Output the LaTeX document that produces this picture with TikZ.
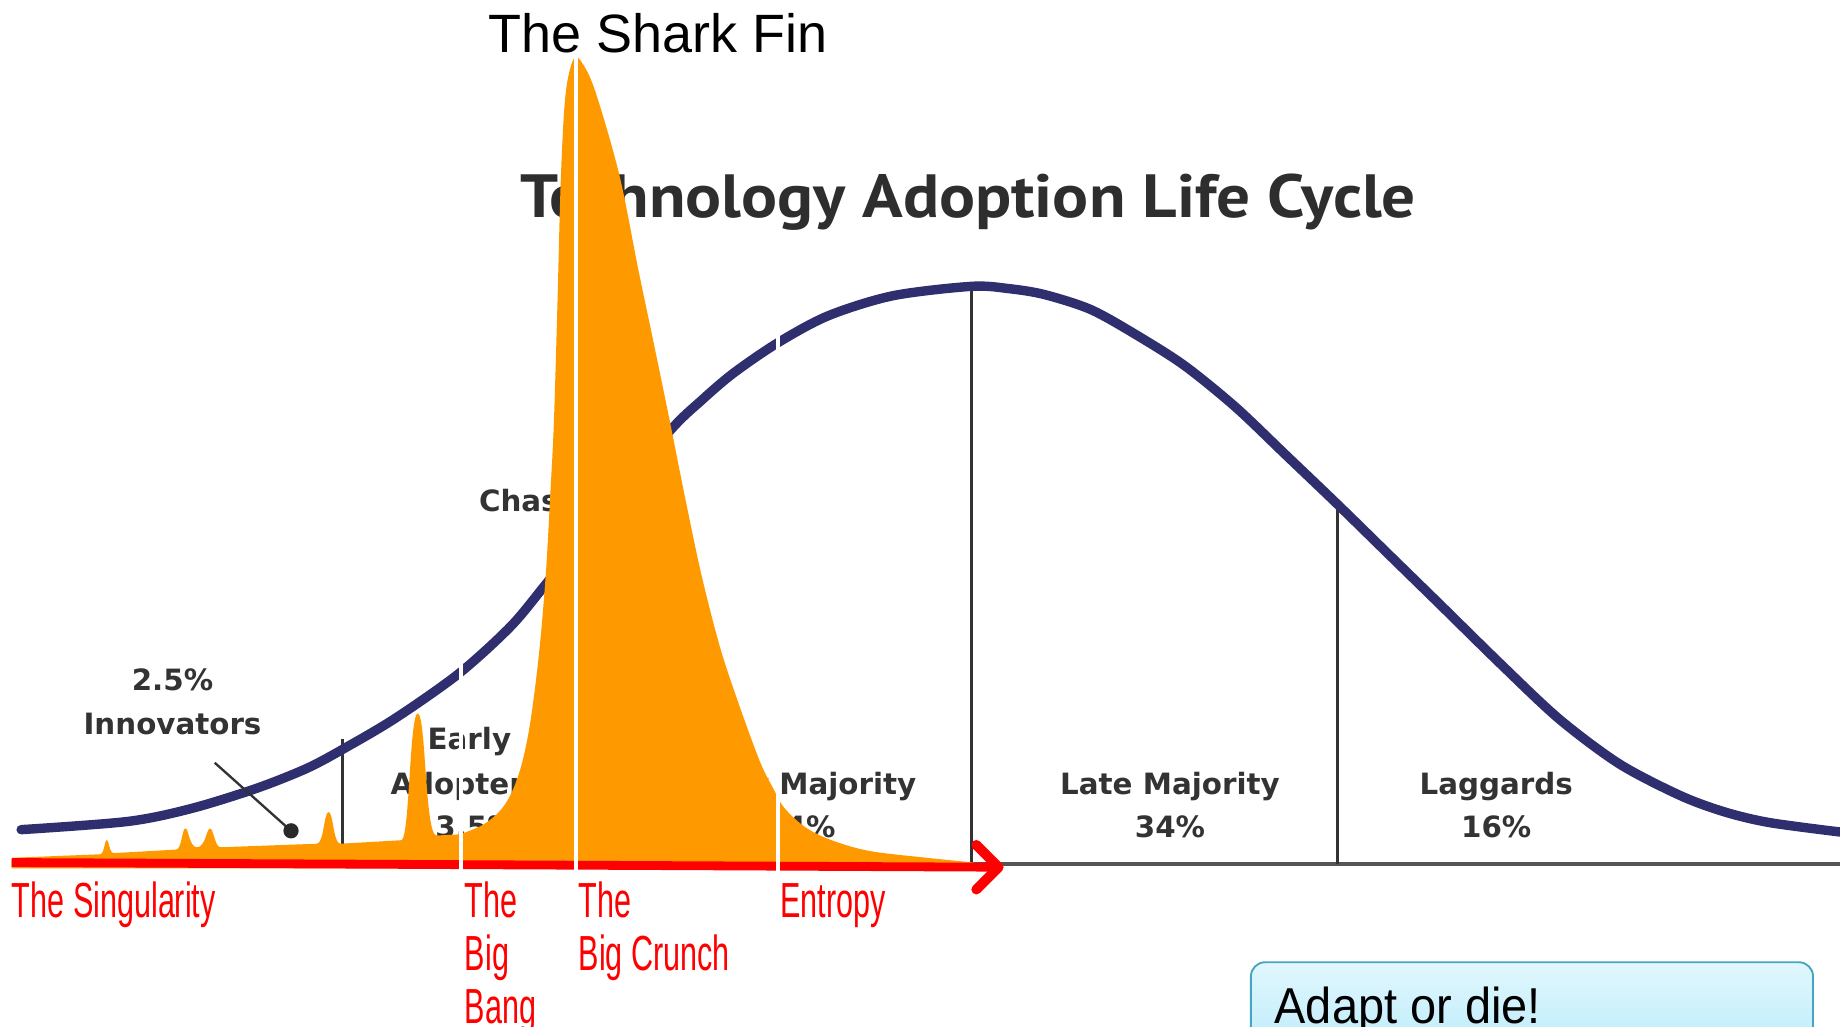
\documentclass[tikz,border=0pt]{standalone}
\usepackage{fontspec}
\setmainfont{Liberation Sans}
\newfontfamily\narrowfont[FakeStretch=0.62]{Liberation Sans}
\newfontfamily\boxfont[FakeStretch=0.93]{Liberation Sans}
\newfontfamily\chartfont{DejaVu Sans}
\newfontfamily\titlefont[FakeStretch=1.1]{PT Sans}
\definecolor{finorange}{HTML}{FF9900}
\definecolor{curveblue}{HTML}{2F2F70}
\definecolor{labelgray}{HTML}{333333}
\definecolor{axisgray}{HTML}{555555}
\definecolor{boxtop}{HTML}{E2F7FD}
\definecolor{boxbottom}{HTML}{B4EAFB}
\definecolor{boxedge}{HTML}{45A6C2}
\tikzset{
  chartlabel/.style={inner sep=0pt, anchor=base, text=labelgray, font=\chartfont\bfseries\fontsize{25}{28}\selectfont},
  redlabel/.style={inner sep=0pt, anchor=base west, text=red, font=\narrowfont\fontsize{42}{45}\selectfont},
  divider/.style={draw=labelgray, line width=2.5pt},
  whitecut/.style={draw=white, line width=3pt},
  bellcurve/.style={draw=curveblue, line width=8pt, line cap=round},
}
\begin{document}
\begin{tikzpicture}[x=1pt, y=-1pt]
\useasboundingbox (0,0) rectangle (1568,875);
\clip (0,0) rectangle (1568,875);
\fill[white] (0,0) rectangle (1568,875);

% ---- underlying adoption chart ----
\coordinate (axL) at (18,736);
\coordinate (axR) at (1568,736);
\draw[draw=axisgray, line width=3.5pt] (axL) -- (axR);

\coordinate (d1t) at (292,630);  \coordinate (d1b) at (292,736);
\coordinate (d2t) at (828,244);  \coordinate (d2b) at (828,736);
\coordinate (d3t) at (1140,430); \coordinate (d3b) at (1140,736);
\draw[divider] (d1t) -- (d1b);
\draw[divider] (d2t) -- (d2b);
\draw[divider] (d3t) -- (d3b);

\draw[bellcurve] plot[smooth] coordinates {
 (18,707) (109,700) (163,689) (218,672) (261,655) (293,638) (337,612)
 (391,574) (435,534) (465,498) (518,432) (571,367) (598,341) (625,318)
 (663,292) (706,269) (761,252) (828,244) (860,246) (890,251) (930,264)
 (971,287) (1010,312) (1053,347) (1095,387) (1140,430) (1185,474)
 (1227,515) (1280,567) (1329,613) (1380,651) (1432,678) (1470,692)
 (1508,701) (1568,709)};

\node[font=\titlefont\bfseries\fontsize{52}{56}\selectfont, text=labelgray!90!black, inner sep=0pt, anchor=base west] (title) at (443,185) {Technology Adoption Life Cycle};

\node[chartlabel] (inn1) at (147,588) {2.5\%};
\node[chartlabel] (inn2) at (147,626) {Innovators};
\coordinate (ptrA) at (183,650);
\coordinate (dot) at (248,708);
\draw[labelgray, line width=2pt] (ptrA) -- (dot);
\fill[labelgray!80!black] (dot) circle (6.5);

\node[chartlabel] (ea1) at (400,639) {Early};
\node[chartlabel] (ea2) at (397,677) {Adopters};
\node[chartlabel] (ea3) at (397,714) {13.5\%};
\node[chartlabel, anchor=base west] (chasm) at (408,436) {Chasm};
\node[chartlabel, anchor=base east] (em1) at (781,677) {Early Majority};
\node[chartlabel] (em2) at (682,714) {34\%};
\node[chartlabel] (lm1) at (997,677) {Late Majority};
\node[chartlabel] (lm2) at (997,714) {34\%};
\node[chartlabel] (lg1) at (1275,677) {Laggards};
\node[chartlabel] (lg2) at (1275,714) {16\%};

% ---- the shark fin ----
\fill[finorange] (10,740) -- (10,731) -- (85,728)
  .. controls (89,728) and (89,716) .. (91,716)
  .. controls (93,716) and (93,727) .. (97,727) -- (150,724)
  .. controls (155,724) and (155,706) .. (158,706)
  .. controls (161,706) and (161,722) .. (168,722)
  .. controls (175,722) and (176,706) .. (179,706)
  .. controls (182,706) and (183,722) .. (188,722) -- (270,719)
  .. controls (276,719) and (276,692) .. (280,692)
  .. controls (284,692) and (284,719) .. (290,719) -- (342,716)
  .. controls (349,716) and (349,608) .. (356,608)
  .. controls (363,608) and (362,712) .. (372,712) -- (392,711)
  -- plot[smooth, tension=0.55] coordinates {
   (392,711) (413,702) (430,686) (442,660) (451,621) (459,560) (465,491)
   (469,420) (472,360) (475,260) (478,150) (482,80) (489,50) (497,55)
   (508,80) (528,150) (544,230) (557,292) (571,360) (584,425) (598,491)
   (614,553) (631,604) (648,650) (659,672) (668,688) (685,704) (706,715)
   (740,725) (790,731) (830,735)}
  -- (830,740) -- cycle;

% ---- red time axis ----
\coordinate (arrL) at (10,735);
\coordinate (arrR) at (851,739);
\draw[red, line width=7.5pt] (arrL) -- (arrR);
\draw[red, line width=8.5pt, line cap=round, line join=round] (832,720) -- (arrR) -- (832,758);

% ---- white cuts ----
\coordinate (bbT) at (393,40);   \coordinate (bbB) at (393,875);
\coordinate (bcT) at (491,40);   \coordinate (bcB) at (491,875);
\coordinate (enT) at (663,283);  \coordinate (enB) at (663,746);
\draw[whitecut] (bbT) -- (bbB);
\draw[whitecut, line width=3.5pt] (bcT) -- (bcB);
\draw[whitecut] (enT) -- (enB);

% ---- red labels ----
\node[redlabel] (sing) at (10,782) {The Singularity};
\node[redlabel] (bb1) at (396,782) {The};
\node[redlabel] (bb2) at (396,827) {Big};
\node[redlabel] (bb3) at (396,872) {Bang};
\node[redlabel] (bc1) at (493,782) {The};
\node[redlabel] (bc2) at (493,827) {Big Crunch};
\node[redlabel] (ent) at (665,782) {Entropy};

% ---- headline ----
\node[inner sep=0pt, anchor=base west, font=\fontsize{46}{50}\selectfont] (shark) at (416,45) {The Shark Fin};

% ---- call-out box ----
\shade[top color=boxtop, bottom color=boxbottom, rounded corners=12pt] (1066,820) rectangle (1545,910);
\draw[boxedge, line width=1.6pt, rounded corners=12pt] (1066,820) rectangle (1545,910);
\node[inner sep=0pt, anchor=base west, font=\boxfont\fontsize{43}{46}\selectfont] (adapt) at (1086,872) {Adapt or die!};
\end{tikzpicture}
\end{document}
